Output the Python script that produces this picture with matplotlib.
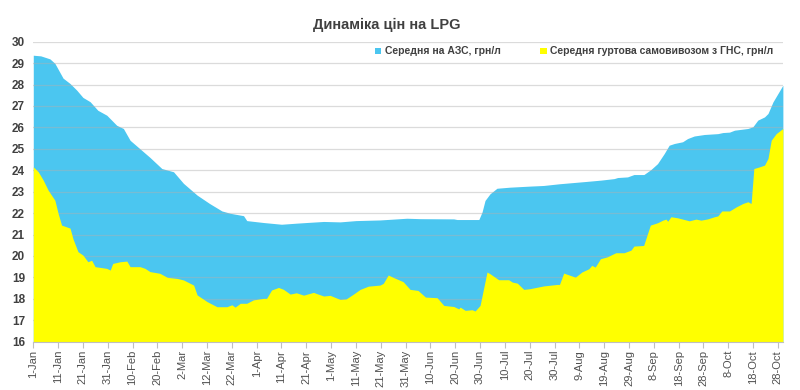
import matplotlib
matplotlib.use("Agg")
import matplotlib.pyplot as plt
import numpy as np

plt.rcParams['font.family'] = ['Liberation Sans', 'DejaVu Sans']

# ─── Дані (день від 1 січня, ціна грн/л) ──────────────────────────────────────
azs_day = [0, 3, 6.7, 8.7, 12, 14.8, 17.5, 20, 22.9, 26, 29.6, 33.6, 36.3, 39, 43,
           47, 51.8, 56.5, 60.5, 66, 71, 76, 79.4, 84.7, 86, 92.8, 100, 106, 110,
           117, 123.6, 130, 139.7, 150.5, 156, 169.4, 170.7, 179.5, 180.8, 182,
           184, 186.8, 192, 200, 205.6, 212, 223, 228.7, 234, 235.4, 239.4, 242,
           246, 248.8, 251.5, 254.2, 256.2, 258.3, 261.6, 263.6, 266.3, 270.4,
           275.8, 277.8, 280.5, 282.5, 287.9, 289.9, 291.9, 294.6, 296, 298, 300,
           302]
azs_price = [29.37, 29.34, 29.2, 28.99, 28.3, 28.05, 27.74, 27.4, 27.2, 26.8, 26.57,
             26.1, 25.95, 25.4, 25.0, 24.6, 24.08, 23.93, 23.39, 22.84, 22.45, 22.1,
             21.99, 21.88, 21.65, 21.56, 21.48, 21.53, 21.56, 21.61, 21.59, 21.65,
             21.68, 21.76, 21.74, 21.73, 21.70, 21.70, 22.05, 22.59, 22.9, 23.16,
             23.21, 23.26, 23.29, 23.37, 23.48, 23.54, 23.61, 23.66, 23.69, 23.8,
             23.8, 24.03, 24.31, 24.78, 25.17, 25.25, 25.33, 25.48, 25.6, 25.67,
             25.71, 25.76, 25.78, 25.87, 25.95, 26.03, 26.34, 26.49, 26.65, 27.19,
             27.58, 27.97]

gns_day = [0, 2, 4, 6, 8.7, 10, 11.4, 14.8, 16, 18, 20, 22, 23.5, 24.9, 29.6, 31,
           32, 35, 37.7, 39, 43, 45, 47, 51, 54, 58, 60.5, 64.6, 66, 70, 74, 78,
           80, 81.3, 83.4, 86, 88.7, 92.8, 94, 96, 98.8, 100.8, 103.5, 106, 108.9,
           112.9, 114, 117, 119.6, 123.6, 126, 129, 131.7, 135, 139.7, 141, 143,
           145, 149, 151.8, 155, 158, 162.7, 165.4, 169.4, 171.4, 172, 174, 176.8,
           178, 180, 182.8, 184, 187.5, 191.5, 193, 195, 197.6, 200, 205.6, 211,
           212, 213.7, 216.4, 218.4, 221, 223.8, 225, 226.4, 228.5, 231.3, 233.4,
           234.7, 238, 240.8, 242, 245.9, 248.6, 251.5, 253.6, 254.9, 255.6, 256.9,
           259.6, 262.3, 264.3, 267, 269, 271.7, 274.4, 275.8, 277.4, 280.5, 283.2,
           285.9, 287.9, 289.2, 290.3, 292.6, 294.6, 296, 297.3, 299.3, 302]
gns_price = [24.16, 23.93, 23.54, 23.07, 22.6, 21.99, 21.44, 21.3, 20.8, 20.2, 20.04,
             19.73, 19.8, 19.5, 19.42, 19.34, 19.65, 19.73, 19.76, 19.5, 19.5, 19.42,
             19.27, 19.19, 19.0, 18.95, 18.88, 18.64, 18.18, 17.87, 17.63, 17.63,
             17.72, 17.61, 17.79, 17.79, 17.95, 18.02, 18.02, 18.41, 18.53, 18.44,
             18.22, 18.28, 18.17, 18.3, 18.25, 18.13, 18.16, 17.97, 17.99, 18.22,
             18.44, 18.59, 18.64, 18.72, 19.11, 19.0, 18.8, 18.44, 18.39, 18.08,
             18.05, 17.69, 17.64, 17.53, 17.61, 17.46, 17.49, 17.43, 17.69, 19.25,
             19.17, 18.89, 18.89, 18.78, 18.73, 18.44, 18.47, 18.6, 18.67, 18.67,
             19.2, 19.09, 19.01, 19.25, 19.4, 19.56, 19.48, 19.87, 19.96, 20.08,
             20.15, 20.15, 20.27, 20.46, 20.49, 21.44, 21.55, 21.67, 21.72, 21.62,
             21.83, 21.78, 21.7, 21.64, 21.72, 21.67, 21.73, 21.83, 21.87, 22.1,
             22.1, 22.29, 22.45, 22.53, 22.45, 24.08, 24.16, 24.24, 24.55, 25.4,
             25.71, 25.95]

tick_day = list(range(0, 301, 10))
tick_label = ["1-Jan", "11-Jan", "21-Jan", "31-Jan", "10-Feb", "20-Feb", "2-Mar",
              "12-Mar", "22-Mar", "1-Apr", "11-Apr", "21-Apr", "1-May", "11-May",
              "21-May", "31-May", "10-Jun", "20-Jun", "30-Jun", "10-Jul", "20-Jul",
              "30-Jul", "9-Aug", "19-Aug", "29-Aug", "8-Sep", "18-Sep", "28-Sep",
              "8-Oct", "18-Oct", "28-Oct"]

BLUE = "#4BC6F0"
YELLOW = "#FFFF00"
TXT = "#404040"

# ─── Plot ──────────────────────────────────────────────────────────────────────
fig = plt.figure(figsize=(8, 3.9), dpi=100)
ax = fig.add_axes([0.0416, 0.124, 0.937, 0.769])

ax.fill_between(azs_day, azs_price, 16, color=BLUE, lw=0,
                label="Середня на АЗС, грн/л", zorder=2)
ax.fill_between(gns_day, gns_price, 16, color=YELLOW, lw=0,
                label="Середня гуртова самовивозом з ГНС, грн/л", zorder=3)

ax.set_xlim(0, 302)
ax.set_ylim(16, 30)
ax.set_yticks(np.arange(16, 31, 1))
ax.set_xticks(tick_day)
ax.set_xticklabels(tick_label, rotation=90, fontsize=8, color="#505050")
ax.tick_params(axis='y', length=0, labelsize=8.5, labelcolor=TXT, pad=6)
ax.tick_params(axis='x', length=4, color="#bfbfbf", pad=2)
for lab in ax.get_yticklabels():
    lab.set_fontweight('bold')

ax.grid(axis='y', color="#b0b0b0", alpha=0.45, lw=0.9, zorder=4)
ax.set_axisbelow(False)
for s in ["top", "right", "left"]:
    ax.spines[s].set_visible(False)
ax.spines["bottom"].set_color("#bfbfbf")
ax.spines["bottom"].set_zorder(5)

fig.text(0.484, 0.935, "Динаміка цін на LPG", ha='center', va='center',
         fontsize=10.5, fontweight='bold', color=TXT)

leg = ax.legend(loc='upper right', bbox_to_anchor=(0.996, 1.005), ncol=2,
                frameon=False, fontsize=7.5, handlelength=0.6, handleheight=0.6,
                handletextpad=0.35, columnspacing=3.8, borderaxespad=0.2)
for t in leg.get_texts():
    t.set_color(TXT)
    t.set_fontweight('bold')

plt.savefig("out.png", dpi=100)
